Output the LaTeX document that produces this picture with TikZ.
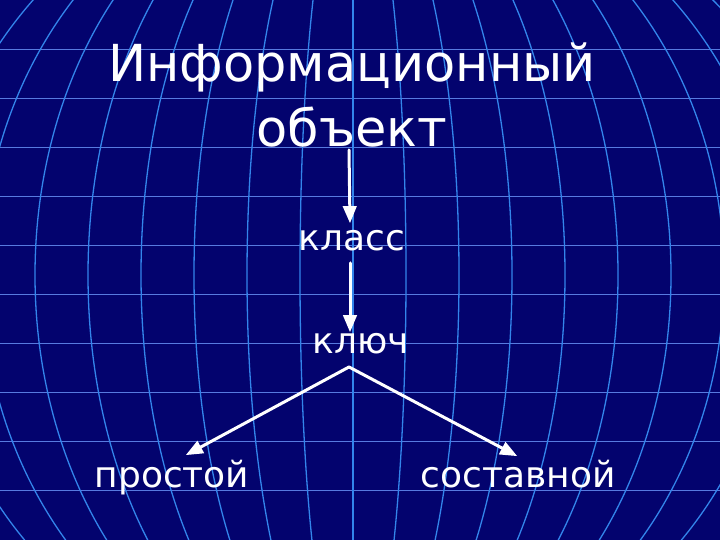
\documentclass[tikz,border=0pt]{standalone}
\usepackage{fontspec}
\setmainfont{DejaVu Sans}
\usepackage{tikz}
\usetikzlibrary{arrows}
\definecolor{navybg}{rgb}{0.01,0.01,0.43}
\definecolor{merid}{rgb}{0.2,0.52,0.92}
\definecolor{parall}{rgb}{0.34,0.48,0.88}

\begin{document}
\begin{tikzpicture}[line cap=round,line join=round,>=triangle 45,x=1.0pt,y=1.0pt,
  lbl/.style={text=white,inner sep=0pt,font=\fontsize{36}{43}\selectfont},
  arr/.style={->,color=white,line width=3pt}]
\useasboundingbox (0,0) rectangle (720,540);
\fill[navybg] (0,0) rectangle (720,540);
% globe grid
\begin{scope}
\clip (0,0) rectangle (720,540);
\foreach \y in {49,98,...,490}
\draw[color=parall,line width=0.8pt] (0,540-\y) -- (720,540-\y);
\draw[color=merid,line width=1.3pt] (353,0) -- (353,540);
\foreach \k in {1,...,10}
\draw[color=merid,line width=1.3pt] (353,265) ellipse [x radius=53*\k, y radius=419];
\end{scope}
% labels
\node[lbl,font=\fontsize{51}{65}\selectfont,align=center,anchor=south] (title) at (352,393) {Информационный\\объект};
\node[lbl,anchor=base] (klass) at (352,289) {класс};
\node[lbl,anchor=base] (kluch) at (361,186) {ключ};
\node[lbl,anchor=base] (prost) at (172,52) {простой};
\node[lbl,anchor=base] (sostav) at (518,52) {составной};
% arrows
\draw[arr] ([xshift=-3pt,yshift=-3pt]title.south) -- ([xshift=-2pt,yshift=28pt]klass.base);
\draw[arr] ([xshift=-2pt,yshift=-12pt]klass.base) -- ([xshift=-11pt,yshift=22pt]kluch.base);
\draw[arr,<->] ([xshift=14pt,yshift=33pt]prost.base) -- ([xshift=-12pt,yshift=-13pt]kluch.base) -- ([xshift=-1pt,yshift=32pt]sostav.base);
\end{tikzpicture}
\end{document}
